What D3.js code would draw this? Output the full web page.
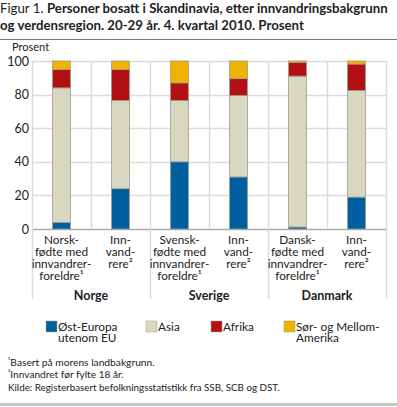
<!DOCTYPE html>
<html>
<head>
<meta charset="utf-8">
<script src="https://cdn.jsdelivr.net/npm/d3@7"></script>
<style>
  body { margin: 0; background: #fff; }
  svg { display: block; font-family: Lato, "Open Sans", sans-serif; }
</style>
</head>
<body>
<svg id="chart" width="397" height="407"></svg>
<script>
// data
const groups = ["Norge", "Sverige", "Danmark"];
const categories = [
  ["Norsk-", "fødte med", "innvandrer-", "foreldre¹"],
  ["Inn-", "vand-", "rere²"],
  ["Svensk-", "fødte med", "innvandrer-", "foreldre¹"],
  ["Inn-", "vand-", "rere²"],
  ["Dansk-", "fødte med", "innvandrer-", "foreldre¹"],
  ["Inn-", "vand-", "rere²"]
];
const seriesNames = [["Øst-Europa", "utenom EU"], ["Asia"], ["Afrika"], ["Sør- og Mellom-", "Amerika"]];
const ostEuropa = [4, 24, 40, 31, 1.2, 19];
const asia = [80, 52.5, 36.5, 48.5, 89.8, 63.5];
const afrika = [11, 18.5, 10.5, 10, 8.2, 15.7];
const sorAmerika = [5, 5, 13, 10.5, 0.8, 1.8];
const yTicks = [0, 20, 40, 60, 80, 100];
const colors = ["#00609f", "#d8d7c0", "#b31016", "#f0b300"];

const svg = d3.select("#chart");
const margin = {top: 61, left: 32, right: 11, bottom: 178};
const width = 397 - margin.left - margin.right;
const height = 407 - margin.top - margin.bottom;

// shrink/grow a text's font so it spans a given width
function fitWidth(sel, target) {
  const fs = +sel.attr("font-size");
  const w = sel.node().getComputedTextLength();
  sel.attr("font-size", (fs * target / w).toFixed(2));
}

// title
const title = svg.append("text").attr("x", 0).attr("y", 13).attr("font-size", 12).attr("fill", "#222");
title.append("tspan").text("Figur 1. ");
title.append("tspan").attr("font-weight", "bold").text("Personer bosatt i Skandinavia, etter innvandringsbakgrunn");
fitWidth(title, 388);
svg.append("text").attr("x", 0).attr("y", 30).attr("font-size", title.attr("font-size"))
  .attr("font-weight", "bold").attr("fill", "#222")
  .text("og verdensregion. 20-29 år. 4. kvartal 2010. Prosent");
svg.append("line").attr("x1", 0).attr("x2", 397).attr("y1", 39.5).attr("y2", 39.5)
  .attr("stroke", "#777").attr("stroke-width", 1);

const g = svg.append("g").attr("transform", "translate(" + margin.left + "," + margin.top + ")");

const x = d3.scaleBand().domain(d3.range(categories.length)).range([0, width]);
const y = d3.scaleLinear().domain([0, 100]).range([height, 0]);

// gridlines
g.selectAll(".hgrid").data(yTicks).enter().append("line")
  .attr("x1", 0).attr("x2", width)
  .attr("y1", d => Math.round(y(d)) + 0.5).attr("y2", d => Math.round(y(d)) + 0.5)
  .attr("stroke", d => d === 0 ? "#aaa" : "#dcdcdc").attr("stroke-width", 1.5);
g.selectAll(".vgrid").data(d3.range(categories.length + 1)).enter().append("line")
  .attr("x1", d => Math.round(d * x.step()) + 0.5).attr("x2", d => Math.round(d * x.step()) + 0.5)
  .attr("y1", 0).attr("y2", d => d % 2 === 0 ? height + 70 : height)
  .attr("stroke", "#dcdcdc").attr("stroke-width", 1.5);

// y axis labels
svg.append("text").attr("x", 12).attr("y", 51).attr("font-size", 11).attr("fill", "#222").text("Prosent");
g.selectAll(".ylab").data(yTicks).enter().append("text")
  .attr("x", -3).attr("y", d => y(d) + 4.5).attr("text-anchor", "end")
  .attr("font-size", 12.5).attr("fill", "#222").text(d => d);

// stacked bars
const rows = categories.map((c, i) => ({i: i, s0: ostEuropa[i], s1: asia[i], s2: afrika[i], s3: sorAmerika[i]}));
const stack = d3.stack().keys(["s0", "s1", "s2", "s3"])(rows);
const barW = 18;
g.selectAll(".layer").data(stack).enter().append("g")
  .attr("fill", (d, k) => colors[k])
  .selectAll("rect").data(d => d).enter().append("rect")
  .attr("x", d => x(d.data.i) + x.bandwidth() / 2 - barW / 2)
  .attr("width", barW)
  .attr("y", d => y(d[1]))
  .attr("height", d => y(d[0]) - y(d[1]))
  .attr("stroke", "#a09d8c").attr("stroke-width", 0.8);

// category labels
categories.forEach((lines, i) => {
  const t = g.append("text").attr("text-anchor", "middle").attr("font-size", 11.8).attr("fill", "#222")
    .attr("x", x(i) + x.bandwidth() / 2);
  lines.forEach((l, j) => {
    t.append("tspan").attr("x", x(i) + x.bandwidth() / 2).attr("y", height + 15 + j * 12).text(l);
  });
});
groups.forEach((name, k) => {
  g.append("text").attr("text-anchor", "middle").attr("font-size", 12.5).attr("font-weight", "bold").attr("fill", "#222")
    .attr("x", x.step() * (2 * k + 1)).attr("y", height + 71).text(name);
});

// legend
const legX = [46, 146, 211, 284];
seriesNames.forEach((lines, k) => {
  svg.append("rect").attr("x", legX[k]).attr("y", 321).attr("width", 11).attr("height", 11)
    .attr("fill", colors[k]).attr("stroke", "#a09d8c").attr("stroke-width", 0.5);
  const t = svg.append("text").attr("font-size", 11.8).attr("fill", "#222");
  lines.forEach((l, j) => {
    t.append("tspan").attr("x", legX[k] + 12).attr("y", 331 + j * 11).text(l);
  });
});

// footnotes
const notes = [["¹", "Basert på morens landbakgrunn.", 147], ["²", "Innvandret før fylte 18 år.", 116]];
notes.forEach((n, j) => {
  const t = svg.append("text").attr("x", 8).attr("y", 366 + j * 12).attr("font-size", 9.5).attr("fill", "#222");
  t.append("tspan").attr("font-size", 7).attr("dy", -3).text(n[0]);
  t.append("tspan").attr("dy", 3).text(n[1]);
  fitWidth(t, n[2]);
});
const kilde = svg.append("text").attr("x", 8).attr("y", 391).attr("font-size", 9.5).attr("fill", "#222")
  .text("Kilde: Registerbasert befolkningsstatistikk fra SSB, SCB og DST.");
fitWidth(kilde, 272);
svg.append("rect").attr("x", 0).attr("y", 403).attr("width", 397).attr("height", 3).attr("fill", "#c8c8c8");
</script>
</body>
</html>
